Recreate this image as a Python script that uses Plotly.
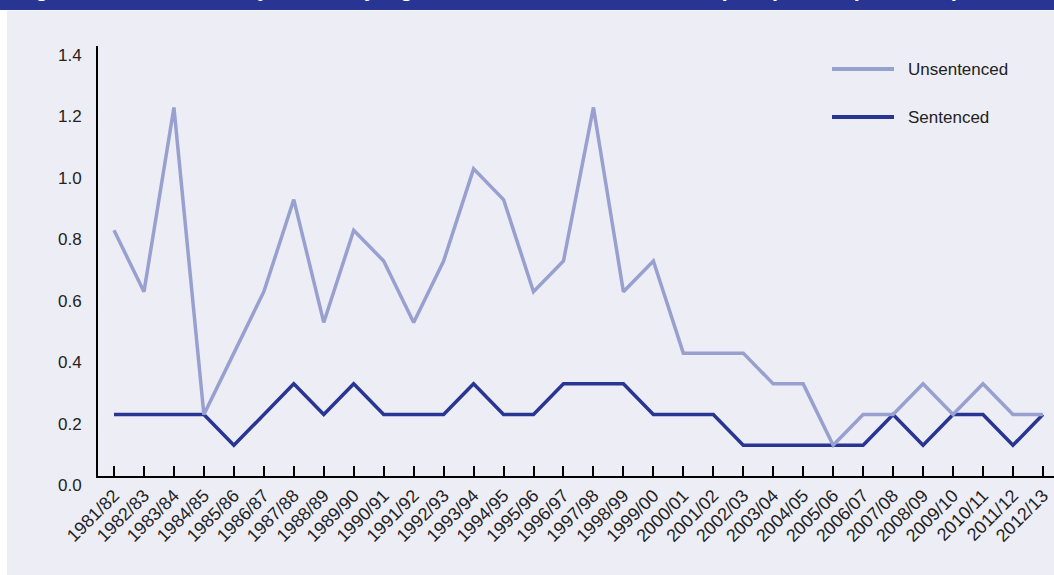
import plotly.graph_objects as go

years = ["1981/82", "1982/83", "1983/84", "1984/85", "1985/86", "1986/87", "1987/88",
         "1988/89", "1989/90", "1990/91", "1991/92", "1992/93", "1993/94", "1994/95",
         "1995/96", "1996/97", "1997/98", "1998/99", "1999/00", "2000/01", "2001/02",
         "2002/03", "2003/04", "2004/05", "2005/06", "2006/07", "2007/08", "2008/09",
         "2009/10", "2010/11", "2011/12", "2012/13"]

unsentenced = [0.8, 0.6, 1.2, 0.2, 0.4, 0.6, 0.9, 0.5, 0.8, 0.7, 0.5, 0.7, 1.0, 0.9,
               0.6, 0.7, 1.2, 0.6, 0.7, 0.4, 0.4, 0.4, 0.3, 0.3, 0.1, 0.2, 0.2, 0.3,
               0.2, 0.3, 0.2, 0.2]

sentenced = [0.2, 0.2, 0.2, 0.2, 0.1, 0.2, 0.3, 0.2, 0.3, 0.2, 0.2, 0.2, 0.3, 0.2,
             0.2, 0.3, 0.3, 0.3, 0.2, 0.2, 0.2, 0.1, 0.1, 0.1, 0.1, 0.1, 0.2, 0.1,
             0.2, 0.2, 0.1, 0.2]

y_ticks = [0.0, 0.2, 0.4, 0.6, 0.8, 1.0, 1.2, 1.4]
y_tick_text = ["0.0", "0.2", "0.4", "0.6", "0.8", "1.0", "1.2", "1.4"]

title_text = "Figure 9: Prison custody deaths by legal status, 1981–82 to 2012–13 (rate per 100 prisoners)"

LIGHT = "#98a0cf"
DARK = "#283593"
BG = "#ededf5"
FONT = "Liberation Sans, Arial, sans-serif"

W, H = 1054, 575
ML, MR, MT, MB = 98, 0, 46, 99
PW = W - ML - MR
PH = H - MT - MB


def px_x(px):
    return (px - ML) / PW


def px_y(py):
    return (H - MB - py) / PH


fig = go.Figure()
fig.add_trace(go.Scatter(x=years, y=sentenced, mode="lines", name="Sentenced",
                         line=dict(color=DARK, width=3.5), showlegend=False))
fig.add_trace(go.Scatter(x=years, y=unsentenced, mode="lines", name="Unsentenced",
                         line=dict(color=LIGHT, width=3.5), showlegend=False))

shapes = [
    # white left strip
    dict(type="rect", xref="paper", yref="paper", x0=px_x(-5), x1=px_x(7),
         y0=px_y(H + 5), y1=px_y(10), fillcolor="white", line=dict(width=0), layer="below"),
    # title band
    dict(type="rect", xref="paper", yref="paper", x0=px_x(-5), x1=px_x(W + 5),
         y0=px_y(10), y1=px_y(-5), fillcolor=DARK, line=dict(width=0), layer="above"),
    # thin light line under the band
    dict(type="line", xref="paper", yref="paper", x0=px_x(7), x1=px_x(W + 5),
         y0=px_y(10.5), y1=px_y(10.5), line=dict(color="#f6f6fb", width=1)),
    # legend lines
    dict(type="line", xref="paper", yref="paper", x0=px_x(832), x1=px_x(894),
         y0=px_y(69), y1=px_y(69), line=dict(color=LIGHT, width=4)),
    dict(type="line", xref="paper", yref="paper", x0=px_x(832), x1=px_x(894),
         y0=px_y(117), y1=px_y(117), line=dict(color=DARK, width=4)),
]

annotations = [
    dict(text="Unsentenced", xref="paper", yref="paper", x=px_x(906), y=px_y(69),
         xanchor="left", yanchor="middle", showarrow=False,
         font=dict(family=FONT, size=17, color="#222222")),
    dict(text="Sentenced", xref="paper", yref="paper", x=px_x(906), y=px_y(117),
         xanchor="left", yanchor="middle", showarrow=False,
         font=dict(family=FONT, size=17, color="#222222")),
    dict(text="<b>" + title_text + "</b>", xref="paper", yref="paper", x=px_x(14),
         y=px_y(-11), xanchor="left", yanchor="middle", showarrow=False,
         font=dict(family=FONT, size=21.6, color="white")),
]

fig.update_layout(
    width=W, height=H,
    margin=dict(l=ML, r=MR, t=MT, b=MB, pad=0),
    paper_bgcolor=BG, plot_bgcolor=BG,
    shapes=shapes, annotations=annotations,
    font=dict(family=FONT, size=17, color="#222222"),
    xaxis=dict(type="category", range=[-0.534, 31.37], showgrid=False, zeroline=False,
               automargin=False,
               showline=True, linecolor="black", linewidth=2,
               ticks="inside", ticklen=10, tickwidth=1.5, tickcolor="black",
               tickangle=-45, tickfont=dict(family=FONT, size=18, color="#222222")),
    yaxis=dict(range=[0, 1.4], showgrid=False, zeroline=False, automargin=False,
               showline=True, linecolor="black", linewidth=2,
               ticks="", tickvals=y_ticks, ticktext=y_tick_text,
               ticklabelstandoff=11, ticklabelshift=9,
               tickfont=dict(family=FONT, size=17, color="#222222")),
)

fig.write_html("out.html", config={"displayModeBar": False},
               post_script="document.body.style.margin='0px';document.body.style.overflow='hidden';")
